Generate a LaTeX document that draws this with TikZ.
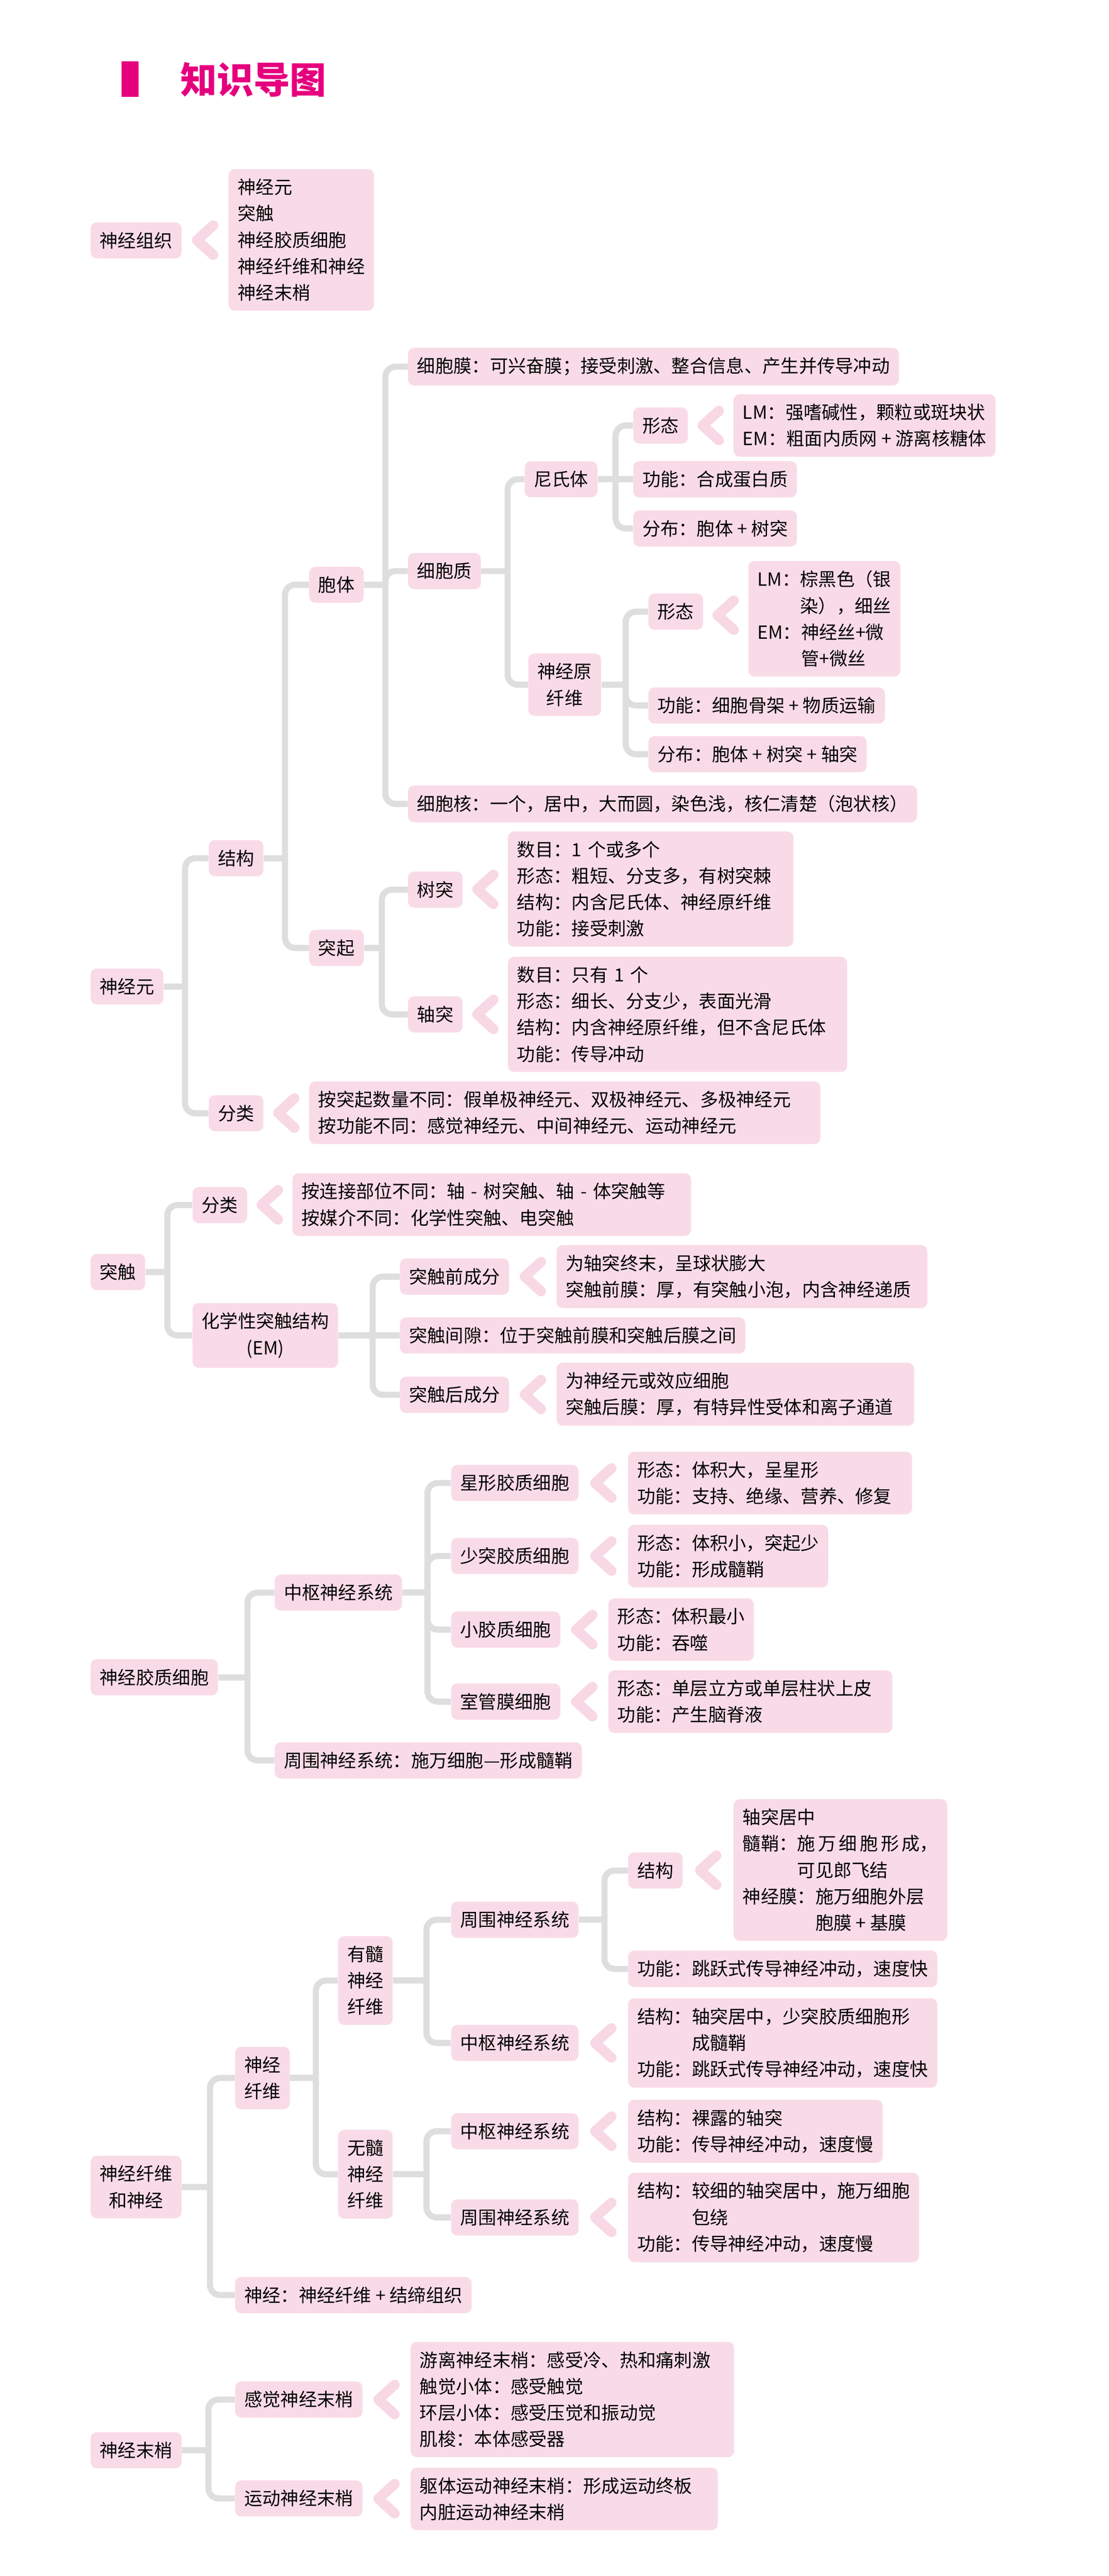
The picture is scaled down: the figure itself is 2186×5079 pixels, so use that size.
\documentclass[tikz,border=0pt]{standalone}
\usepackage{fontspec}
\setmainfont{Noto Sans CJK SC}
\usetikzlibrary{shapes, backgrounds}
\definecolor{titlepink}{RGB}{230,0,126}
\definecolor{boxpink}{RGB}{249,219,231}
\definecolor{chevpink}{RGB}{248,216,228}
\definecolor{linegray}{RGB}{221,222,221}

\begin{document}
\begin{tikzpicture}[x=0.1mm, y=-0.1mm]
  \tikzstyle{block} = [rectangle, fill=boxpink, text=black, anchor=west, align=left,
      rounded corners=1.2mm, inner xsep=1.8mm, inner ysep=1.9mm, minimum height=7mm,
      font=\fontsize{10.2pt}{14.8pt}\selectfont]
  \tikzstyle{stack} = [block, align=center]
  \tikzstyle{line} = [draw=linegray, line width=1.2mm, rounded corners=2mm]
  \tikzset{chev/.pic={\draw[chevpink, line width=2mm, line cap=round, line join=round]
      (16,-29) -- (-16,0) -- (16,29);}}
  \useasboundingbox[fill=white] (0,0) rectangle (2186,5079);

  % Title
  \fill[titlepink] (240,121) rectangle (273,191);
  \node[anchor=west, inner sep=0, text=titlepink, font=\fontsize{20.5pt}{24pt}\selectfont\bfseries] (heading) at (355,157) {知识导图};

  % Nervous tissue
  \node [block] (tissue) at (178,474) {神经组织};
  \node [block] (tissuelist) at (450,473) {神经元\\突触\\神经胶质细胞\\神经纤维和神经\\神经末梢};
  \path (tissue.east) -- coordinate (ctissue) (tissuelist.west);
  \pic at (ctissue) {chev};

  % Neuron: place nodes
  \node [block] (neuron) at (178,1945) {神经元};
  \node [block] (nstruct) at (411,1692) {结构};
  \node [block] (nclass) at (411,2195) {分类};
  \node [block] (soma) at (609,1153) {胞体};
  \node [block] (process) at (609,1869) {突起};
  \node [block] (membrane) at (804,723) {细胞膜：可兴奋膜；接受刺激、整合信息、产生并传导冲动};
  \node [block] (cytoplasm) at (804,1126) {细胞质};
  \node [block] (nucleus) at (804,1585) {细胞核：一个，居中，大而圆，染色浅，核仁清楚（泡状核）};
  \node [block] (nissl) at (1034,945) {尼氏体};
  \node [block] (nisslform) at (1248,839) {形态};
  \node [block] (nisslformtxt) at (1446,839) {LM：强嗜碱性，颗粒或斑块状\\EM：粗面内质网 + 游离核糖体};
  \node [block] (nisslfunc) at (1248,945) {功能：合成蛋白质};
  \node [block] (nissldist) at (1248,1042) {分布：胞体 + 树突};
  \node [stack] (fibril) at (1041,1350) {神经原\\纤维};
  \node [block] (fibrilform) at (1278,1206) {形态};
  \node [block] (fibrilformtxt) at (1475,1220) {LM：棕黑色（银\\\hspace*{0pt}\phantom{LM：}染），细丝\\EM：神经丝+微\\\hspace*{0pt}\phantom{EM：}管+微丝};
  \node [block] (fibrilfunc) at (1278,1391) {功能：细胞骨架 + 物质运输};
  \node [block] (fibrildist) at (1278,1487) {分布：胞体 + 树突 + 轴突};
  \node [block] (dendrite) at (804,1754) {树突};
  \node [block, text width=52.7mm] (dendtxt) at (1001,1753) {数目：1 个或多个\\形态：粗短、分支多，有树突棘\\结构：内含尼氏体、神经原纤维\\功能：接受刺激};
  \node [block] (axon) at (804,2000) {轴突};
  \node [block, text width=63.3mm] (axontxt) at (1001,2000) {数目：只有 1 个\\形态：细长、分支少，表面光滑\\结构：内含神经原纤维，但不含尼氏体\\功能：传导冲动};
  \node [block, text width=97.2mm] (nclasstxt) at (609,2194) {按突起数量不同：假单极神经元、双极神经元、多极神经元\\按功能不同：感觉神经元、中间神经元、运动神经元};

  % Neuron: paths
  \coordinate (bneuron) at (365,1945);
  \coordinate (bnstruct) at (562,1692);
  \coordinate (bsoma) at (760,1153);
  \coordinate (bcyto) at (1001,1126);
  \coordinate (bfibril) at (1234,1350);
  \coordinate (bprocess) at (753,1869);
  \path [line] (neuron.east) -- (bneuron);
  \path [line] (bneuron) |- (nstruct.west);
  \path [line] (bneuron) |- (nclass.west);
  \path [line] (nstruct.east) -- (bnstruct);
  \path [line] (bnstruct) |- (soma.west);
  \path [line] (bnstruct) |- (process.west);
  \path [line] (soma.east) -- (bsoma);
  \path [line] (bsoma) |- (membrane.west);
  \path [line] (bsoma) |- (cytoplasm.west);
  \path [line] (bsoma) |- (nucleus.west);
  \path [line] (cytoplasm.east) -- (bcyto);
  \path [line] (bcyto) |- (nissl.west);
  \path [line] (bcyto) |- (fibril.west);
  \path [line] (nissl.east) -- (nisslfunc.west);
  \path [line] (nissl.east) -- ++(35,0) coordinate (bnissl);
  \path [line] (bnissl) |- (nisslform.west);
  \path [line] (bnissl) |- (nissldist.west);
  \path [line] (fibril.east) -- (bfibril);
  \path [line] (bfibril) |- (fibrilform.west);
  \path [line] (bfibril) |- (fibrilfunc.west);
  \path [line] (bfibril) |- (fibrildist.west);
  \path [line] (process.east) -- (bprocess);
  \path [line] (bprocess) |- (dendrite.west);
  \path [line] (bprocess) |- (axon.west);
  \path (nisslform.east) -- coordinate (cnissl) (nisslformtxt.west);
  \path (fibrilform.east) -- coordinate (cfibril) (fibrilformtxt.west);
  \path (dendrite.east) -- coordinate (cdend) (dendtxt.west);
  \path (axon.east) -- coordinate (caxon) (axontxt.west);
  \path (nclass.east) -- coordinate (cnclass) (nclasstxt.west);
  \pic at (cnissl) {chev};
  \pic at (cfibril) {chev};
  \pic at (cdend) {chev};
  \pic at (caxon) {chev};
  \pic at (cnclass) {chev};

  % Synapse
  \node [block] (synapse) at (178,2508) {突触};
  \node [block] (sclass) at (379,2376) {分类};
  \node [block, text width=75mm] (sclasstxt) at (576,2375) {按连接部位不同：轴 - 树突触、轴 - 体突触等\\按媒介不同：化学性突触、电突触};
  \node [stack] (chem) at (379,2633) {化学性突触结构\\(EM)};
  \node [block] (pre) at (788,2517) {突触前成分};
  \node [block, text width=69.5mm] (pretxt) at (1097,2517) {为轴突终末，呈球状膨大\\突触前膜：厚，有突触小泡，内含神经递质};
  \node [block] (cleft) at (788,2633) {突触间隙：位于突触前膜和突触后膜之间};
  \node [block] (post) at (788,2750) {突触后成分};
  \node [block, text width=66.9mm] (posttxt) at (1097,2749) {为神经元或效应细胞\\突触后膜：厚，有特异性受体和离子通道};

  \coordinate (bsynapse) at (330,2508);
  \coordinate (bchem) at (735,2633);
  \path [line] (synapse.east) -- (bsynapse);
  \path [line] (bsynapse) |- (sclass.west);
  \path [line] (bsynapse) |- (chem.west);
  \path [line] (chem.east) -- (cleft.west);
  \path [line] (bchem) |- (pre.west);
  \path [line] (bchem) |- (post.west);
  \path (sclass.east) -- coordinate (csclass) (sclasstxt.west);
  \path (pre.east) -- coordinate (cpre) (pretxt.west);
  \path (post.east) -- coordinate (cpost) (posttxt.west);
  \pic at (csclass) {chev};
  \pic at (cpre) {chev};
  \pic at (cpost) {chev};

  % Glial cells
  \node [block] (glia) at (178,3307) {神经胶质细胞};
  \node [block] (gcns) at (541,3140) {中枢神经系统};
  \node [block] (gpns) at (541,3471) {周围神经系统：施万细胞—形成髓鞘};
  \node [block] (astro) at (889,2924) {星形胶质细胞};
  \node [block, text width=52.4mm] (astrotxt) at (1238,2924) {形态：体积大，呈星形\\功能：支持、绝缘、营养、修复};
  \node [block] (oligo) at (889,3068) {少突胶质细胞};
  \node [block] (oligotxt) at (1238,3068) {形态：体积小，突起少\\功能：形成髓鞘};
  \node [block] (micro) at (889,3213) {小胶质细胞};
  \node [block] (microtxt) at (1199,3213) {形态：体积最小\\功能：吞噬};
  \node [block] (epend) at (889,3355) {室管膜细胞};
  \node [block, text width=52.4mm] (ependtxt) at (1199,3355) {形态：单层立方或单层柱状上皮\\功能：产生脑脊液};

  \coordinate (bglia) at (488,3307);
  \coordinate (bgcns) at (843,3140);
  \path [line] (glia.east) -- (bglia);
  \path [line] (bglia) |- (gcns.west);
  \path [line] (bglia) |- (gpns.west);
  \path [line] (gcns.east) -- (bgcns);
  \path [line] (bgcns) |- (astro.west);
  \path [line] (bgcns) |- (oligo.west);
  \path [line] (bgcns) |- (micro.west);
  \path [line] (bgcns) |- (epend.west);
  \path (astro.east) -- coordinate (castro) (astrotxt.west);
  \path (oligo.east) -- coordinate (coligo) (oligotxt.west);
  \path (micro.east) -- coordinate (cmicro) (microtxt.west);
  \path (epend.east) -- coordinate (cepend) (ependtxt.west);
  \pic at (castro) {chev};
  \pic at (coligo) {chev};
  \pic at (cmicro) {chev};
  \pic at (cepend) {chev};

  % Nerve fibres and nerves
  \node [stack] (fiber) at (178,4312) {神经纤维\\和神经};
  \node [stack] (nfiber) at (463,4097) {神经\\纤维};
  \node [block] (nerve) at (463,4525) {神经：神经纤维 + 结缔组织};
  \node [stack] (myel) at (666,3905) {有髓\\神经\\纤维};
  \node [stack] (unmyel) at (666,4287) {无髓\\神经\\纤维};
  \node [block] (mpns) at (889,3785) {周围神经系统};
  \node [block] (mstruct) at (1238,3688) {结构};
  \node [block] (mstructtxt) at (1446,3687) {轴突居中\\髓鞘：施\hspace{0.15em}万\hspace{0.15em}细\hspace{0.15em}胞\hspace{0.15em}形\hspace{0.15em}成，\\\hspace*{3em}可见郎飞结\\神经膜：施万细胞外层\\\hspace*{4em}胞膜 + 基膜};
  \node [block] (mfunc) at (1238,3882) {功能：跳跃式传导神经冲动，速度快};
  \node [block] (mcns) at (889,4028) {中枢神经系统};
  \node [block] (mcnstxt) at (1238,4028) {结构：轴突居中，少突胶质细胞形\\\hspace*{3em}成髓鞘\\功能：跳跃式传导神经冲动，速度快};
  \node [block] (ucns) at (889,4202) {中枢神经系统};
  \node [block] (ucnstxt) at (1238,4202) {结构：裸露的轴突\\功能：传导神经冲动，速度慢};
  \node [block] (upns) at (889,4372) {周围神经系统};
  \node [block] (upnstxt) at (1238,4372) {结构：较细的轴突居中，施万细胞\\\hspace*{3em}包绕\\功能：传导神经冲动，速度慢};

  \coordinate (bfiber) at (414,4312);
  \coordinate (bnfiber) at (623,4097);
  \coordinate (bmyel) at (841,3905);
  \coordinate (bunmyel) at (841,4287);
  \coordinate (bmpns) at (1192,3785);
  \path [line] (fiber.east) -- (bfiber);
  \path [line] (bfiber) |- (nfiber.west);
  \path [line] (bfiber) |- (nerve.west);
  \path [line] (nfiber.east) -- (bnfiber);
  \path [line] (bnfiber) |- (myel.west);
  \path [line] (bnfiber) |- (unmyel.west);
  \path [line] (myel.east) -- (bmyel);
  \path [line] (bmyel) |- (mpns.west);
  \path [line] (bmyel) |- (mcns.west);
  \path [line] (unmyel.east) -- (bunmyel);
  \path [line] (bunmyel) |- (ucns.west);
  \path [line] (bunmyel) |- (upns.west);
  \path [line] (mpns.east) -- (bmpns);
  \path [line] (bmpns) |- (mstruct.west);
  \path [line] (bmpns) |- (mfunc.west);
  \path (mstruct.east) -- coordinate (cmstruct) (mstructtxt.west);
  \path (mcns.east) -- coordinate (cmcns) (mcnstxt.west);
  \path (ucns.east) -- coordinate (cucns) (ucnstxt.west);
  \path (upns.east) -- coordinate (cupns) (upnstxt.west);
  \pic at (cmstruct) {chev};
  \pic at (cmcns) {chev};
  \pic at (cucns) {chev};
  \pic at (cupns) {chev};

  % Nerve endings
  \node [block] (ending) at (178,4831) {神经末梢};
  \node [block] (sens) at (463,4731) {感觉神经末梢};
  \node [block, text width=60.2mm] (senstxt) at (809,4731) {游离神经末梢：感受冷、热和痛刺激\\触觉小体：感受触觉\\环层小体：感受压觉和振动觉\\肌梭：本体感受器};
  \node [block] (motor) at (463,4926) {运动神经末梢};
  \node [block, text width=57mm] (motortxt) at (809,4927) {躯体运动神经末梢：形成运动终板\\内脏运动神经末梢};

  \coordinate (bending) at (411,4831);
  \path [line] (ending.east) -- (bending);
  \path [line] (bending) |- (sens.west);
  \path [line] (bending) |- (motor.west);
  \path (sens.east) -- coordinate (csens) (senstxt.west);
  \path (motor.east) -- coordinate (cmotor) (motortxt.west);
  \pic at (csens) {chev};
  \pic at (cmotor) {chev};

\end{tikzpicture}
\end{document}
